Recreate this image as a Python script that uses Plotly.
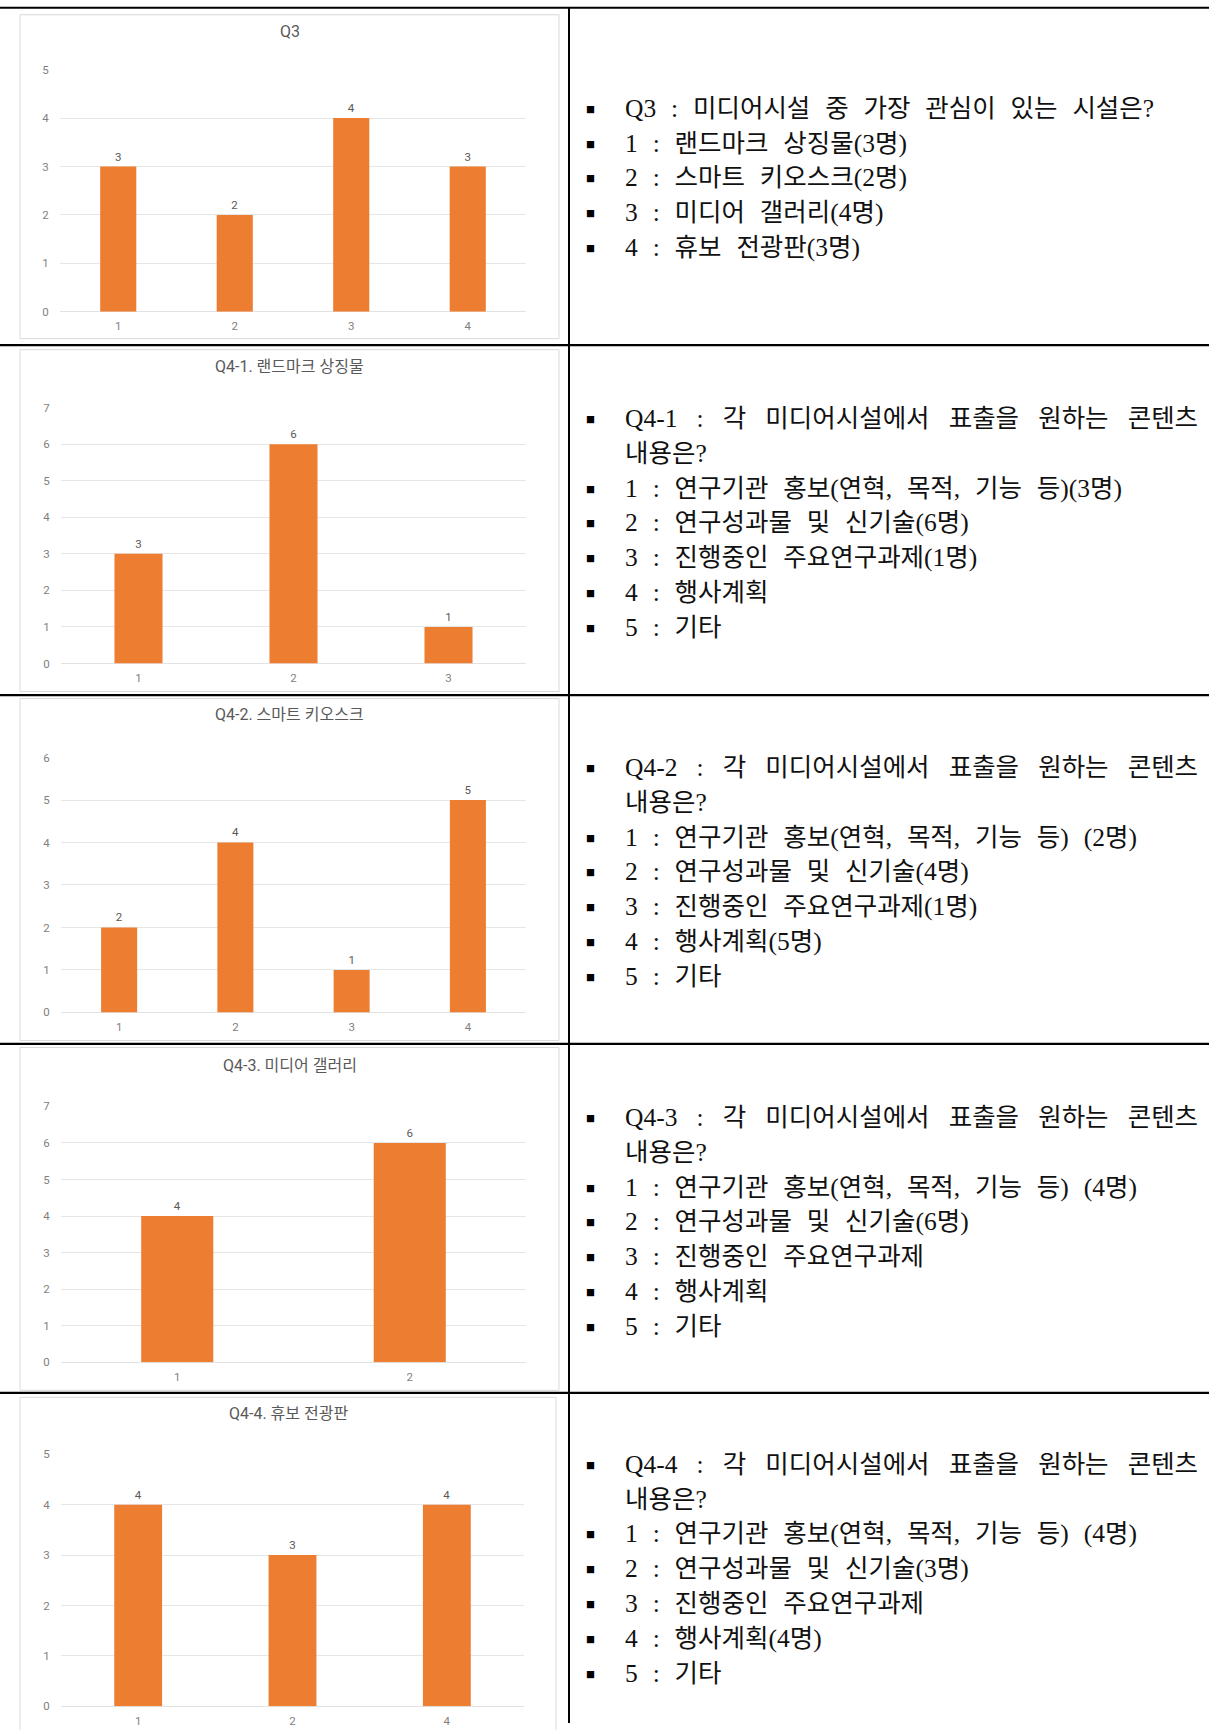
import plotly.graph_objects as go

W, H = 1209, 1730

# ---------------- data ----------------
chart_titles = ["Q3", "Q4-1. 랜드마크 상징물", "Q4-2. 스마트 키오스크",
                "Q4-3. 미디어 갤러리", "Q4-4. 휴보 전광판"]
q3_categories = ["1", "2", "3", "4"]
q3_values = [3, 2, 4, 3]
q41_categories = ["1", "2", "3"]
q41_values = [3, 6, 1]
q42_categories = ["1", "2", "3", "4"]
q42_values = [2, 4, 1, 5]
q43_categories = ["1", "2"]
q43_values = [4, 6]
q44_categories = ["1", "2", "4"]
q44_values = [4, 3, 4]
y_axis_max = [5, 7, 6, 7, 5]

all_categories = [q3_categories, q41_categories, q42_categories, q43_categories, q44_categories]
all_values = [q3_values, q41_values, q42_values, q43_values, q44_values]

q4_question = "각 미디어시설에서 표출을 원하는 콘텐츠"
q3_lines = ["Q3 : 미디어시설 중 가장 관심이 있는 시설은?",
            "1 : 랜드마크 상징물(3명)",
            "2 : 스마트 키오스크(2명)",
            "3 : 미디어 갤러리(4명)",
            "4 : 휴보 전광판(3명)"]
q41_lines = ["Q4-1 : " + q4_question, "내용은?",
             "1 : 연구기관 홍보(연혁, 목적, 기능 등)(3명)",
             "2 : 연구성과물 및 신기술(6명)",
             "3 : 진행중인 주요연구과제(1명)",
             "4 : 행사계획",
             "5 : 기타"]
q42_lines = ["Q4-2 : " + q4_question, "내용은?",
             "1 : 연구기관 홍보(연혁, 목적, 기능 등) (2명)",
             "2 : 연구성과물 및 신기술(4명)",
             "3 : 진행중인 주요연구과제(1명)",
             "4 : 행사계획(5명)",
             "5 : 기타"]
q43_lines = ["Q4-3 : " + q4_question, "내용은?",
             "1 : 연구기관 홍보(연혁, 목적, 기능 등) (4명)",
             "2 : 연구성과물 및 신기술(6명)",
             "3 : 진행중인 주요연구과제",
             "4 : 행사계획",
             "5 : 기타"]
q44_lines = ["Q4-4 : " + q4_question, "내용은?",
             "1 : 연구기관 홍보(연혁, 목적, 기능 등) (4명)",
             "2 : 연구성과물 및 신기술(3명)",
             "3 : 진행중인 주요연구과제",
             "4 : 행사계획(4명)",
             "5 : 기타"]
all_lines = [q3_lines, q41_lines, q42_lines, q43_lines, q44_lines]

# ---------------- layout geometry (pixels) ----------------
row_lines_y = [7, 344.5, 694.5, 1043.5, 1392.5]
divider_x = 569
frames = [(20, 14, 559, 338), (20, 349, 559, 691), (20, 698, 559, 1040),
          (20, 1047, 559, 1390), (20, 1397, 556, 1760)]
plots = [(60, 69, 526, 311), (61, 407, 526, 663), (61, 757, 526, 1012),
         (61, 1106, 526, 1362), (61, 1454, 524, 1706)]
title_y = [31, 366, 714, 1065, 1413]
text_first_y = [107.5, 418, 767, 1117, 1464]
line_step = 34.8
bullet_x = 590
text_x = 623

# vertical calibration of the rendered page (measured offset / scale)
Y_OFF, Y_SCALE = 6.25, 0.9922

def px(x):
    return x / W

def py(y):
    ys = (y - Y_OFF) / Y_SCALE
    return 1 - ys / H

SANS = "Roboto, Noto Sans CJK KR, sans-serif"
SERIF = "Liberation Serif, Noto Sans CJK KR, serif"
SP_NORMAL = "\u00a0\u00a0\u200a"
SP_JUSTIFIED = "\u00a0\u00a0\u00a0"

fig = go.Figure()
layout_axes = {}
annotations = []
shapes = []

for i in range(5):
    n = i + 1
    xa = "x" if n == 1 else f"x{n}"
    ya = "y" if n == 1 else f"y{n}"
    fig.add_trace(go.Bar(
        x=all_categories[i], y=all_values[i], xaxis=xa, yaxis=ya,
        marker=dict(color="#ED7D31", line=dict(width=0)),
        text=all_values[i], textposition="outside", cliponaxis=False,
        textfont=dict(family=SANS, size=11.5, color="#595959"),
        showlegend=False, hoverinfo="skip"))
    x0, y0, x1, y1 = plots[i]
    layout_axes["xaxis" if n == 1 else f"xaxis{n}"] = dict(
        type="category", domain=[px(x0), px(x1)], anchor=ya,
        showgrid=False, showline=False, zeroline=False,
        ticks="outside", ticklen=4, tickcolor="rgba(0,0,0,0)",
        tickfont=dict(family=SANS, size=11.5, color="#7f7f7f"))
    layout_axes["yaxis" if n == 1 else f"yaxis{n}"] = dict(
        range=[0, y_axis_max[i]], dtick=1, domain=[py(y1), py(y0)], anchor=xa,
        showgrid=True, gridcolor="#e6e6e6", gridwidth=1,
        zeroline=True, zerolinecolor="#e2e2e2", zerolinewidth=1, showline=False,
        ticks="outside", ticklen=8, tickcolor="rgba(0,0,0,0)",
        tickfont=dict(family=SANS, size=11.5, color="#7f7f7f"))
    fx0, fy0, fx1, fy1 = frames[i]
    shapes.append(dict(type="rect", xref="paper", yref="paper",
                       x0=px(fx0), x1=px(fx1), y0=py(fy1), y1=py(fy0),
                       line=dict(color="#dadada", width=1), layer="below"))
    annotations.append(dict(x=px((fx0 + fx1) / 2), y=py(title_y[i]),
                            xref="paper", yref="paper", text=chart_titles[i],
                            showarrow=False, xanchor="center", yanchor="middle",
                            font=dict(family=SANS, size=16, color="#595959")))
    # right-hand text
    for j, line in enumerate(all_lines[i]):
        yy = text_first_y[i] + j * line_step
        cont = (line == "내용은?")
        justified = line.startswith("Q4-")
        sp = SP_JUSTIFIED if justified else SP_NORMAL
        annotations.append(dict(x=px(text_x), y=py(yy), xref="paper", yref="paper",
                                text=line.replace(" ", sp), showarrow=False,
                                xanchor="left", yanchor="middle",
                                font=dict(family=SERIF, size=25.5, color="#111111")))
        if not cont:
            annotations.append(dict(x=px(bullet_x), y=py(yy + 1), xref="paper", yref="paper",
                                    text="■", showarrow=False,
                                    xanchor="center", yanchor="middle",
                                    font=dict(family="Noto Sans CJK KR", size=9, color="#000000")))

for yl in row_lines_y:
    shapes.append(dict(type="line", xref="paper", yref="paper",
                       x0=0, x1=1, y0=py(yl), y1=py(yl),
                       line=dict(color="#000000", width=2.2)))
shapes.append(dict(type="line", xref="paper", yref="paper",
                   x0=px(divider_x), x1=px(divider_x), y0=py(row_lines_y[0]), y1=0,
                   line=dict(color="#000000", width=2)))

fig.update_layout(width=W, height=H, margin=dict(l=0, r=0, t=0, b=0),
                  paper_bgcolor="white", plot_bgcolor="white",
                  bargap=0.69, showlegend=False,
                  annotations=annotations, shapes=shapes, **layout_axes)

fig.write_html("out.html", config={"displayModeBar": False},
               post_script="document.documentElement.style.margin='0';"
                           "document.body.style.margin='0';document.body.style.padding='0';"
                           "document.body.style.overflow='hidden';")
